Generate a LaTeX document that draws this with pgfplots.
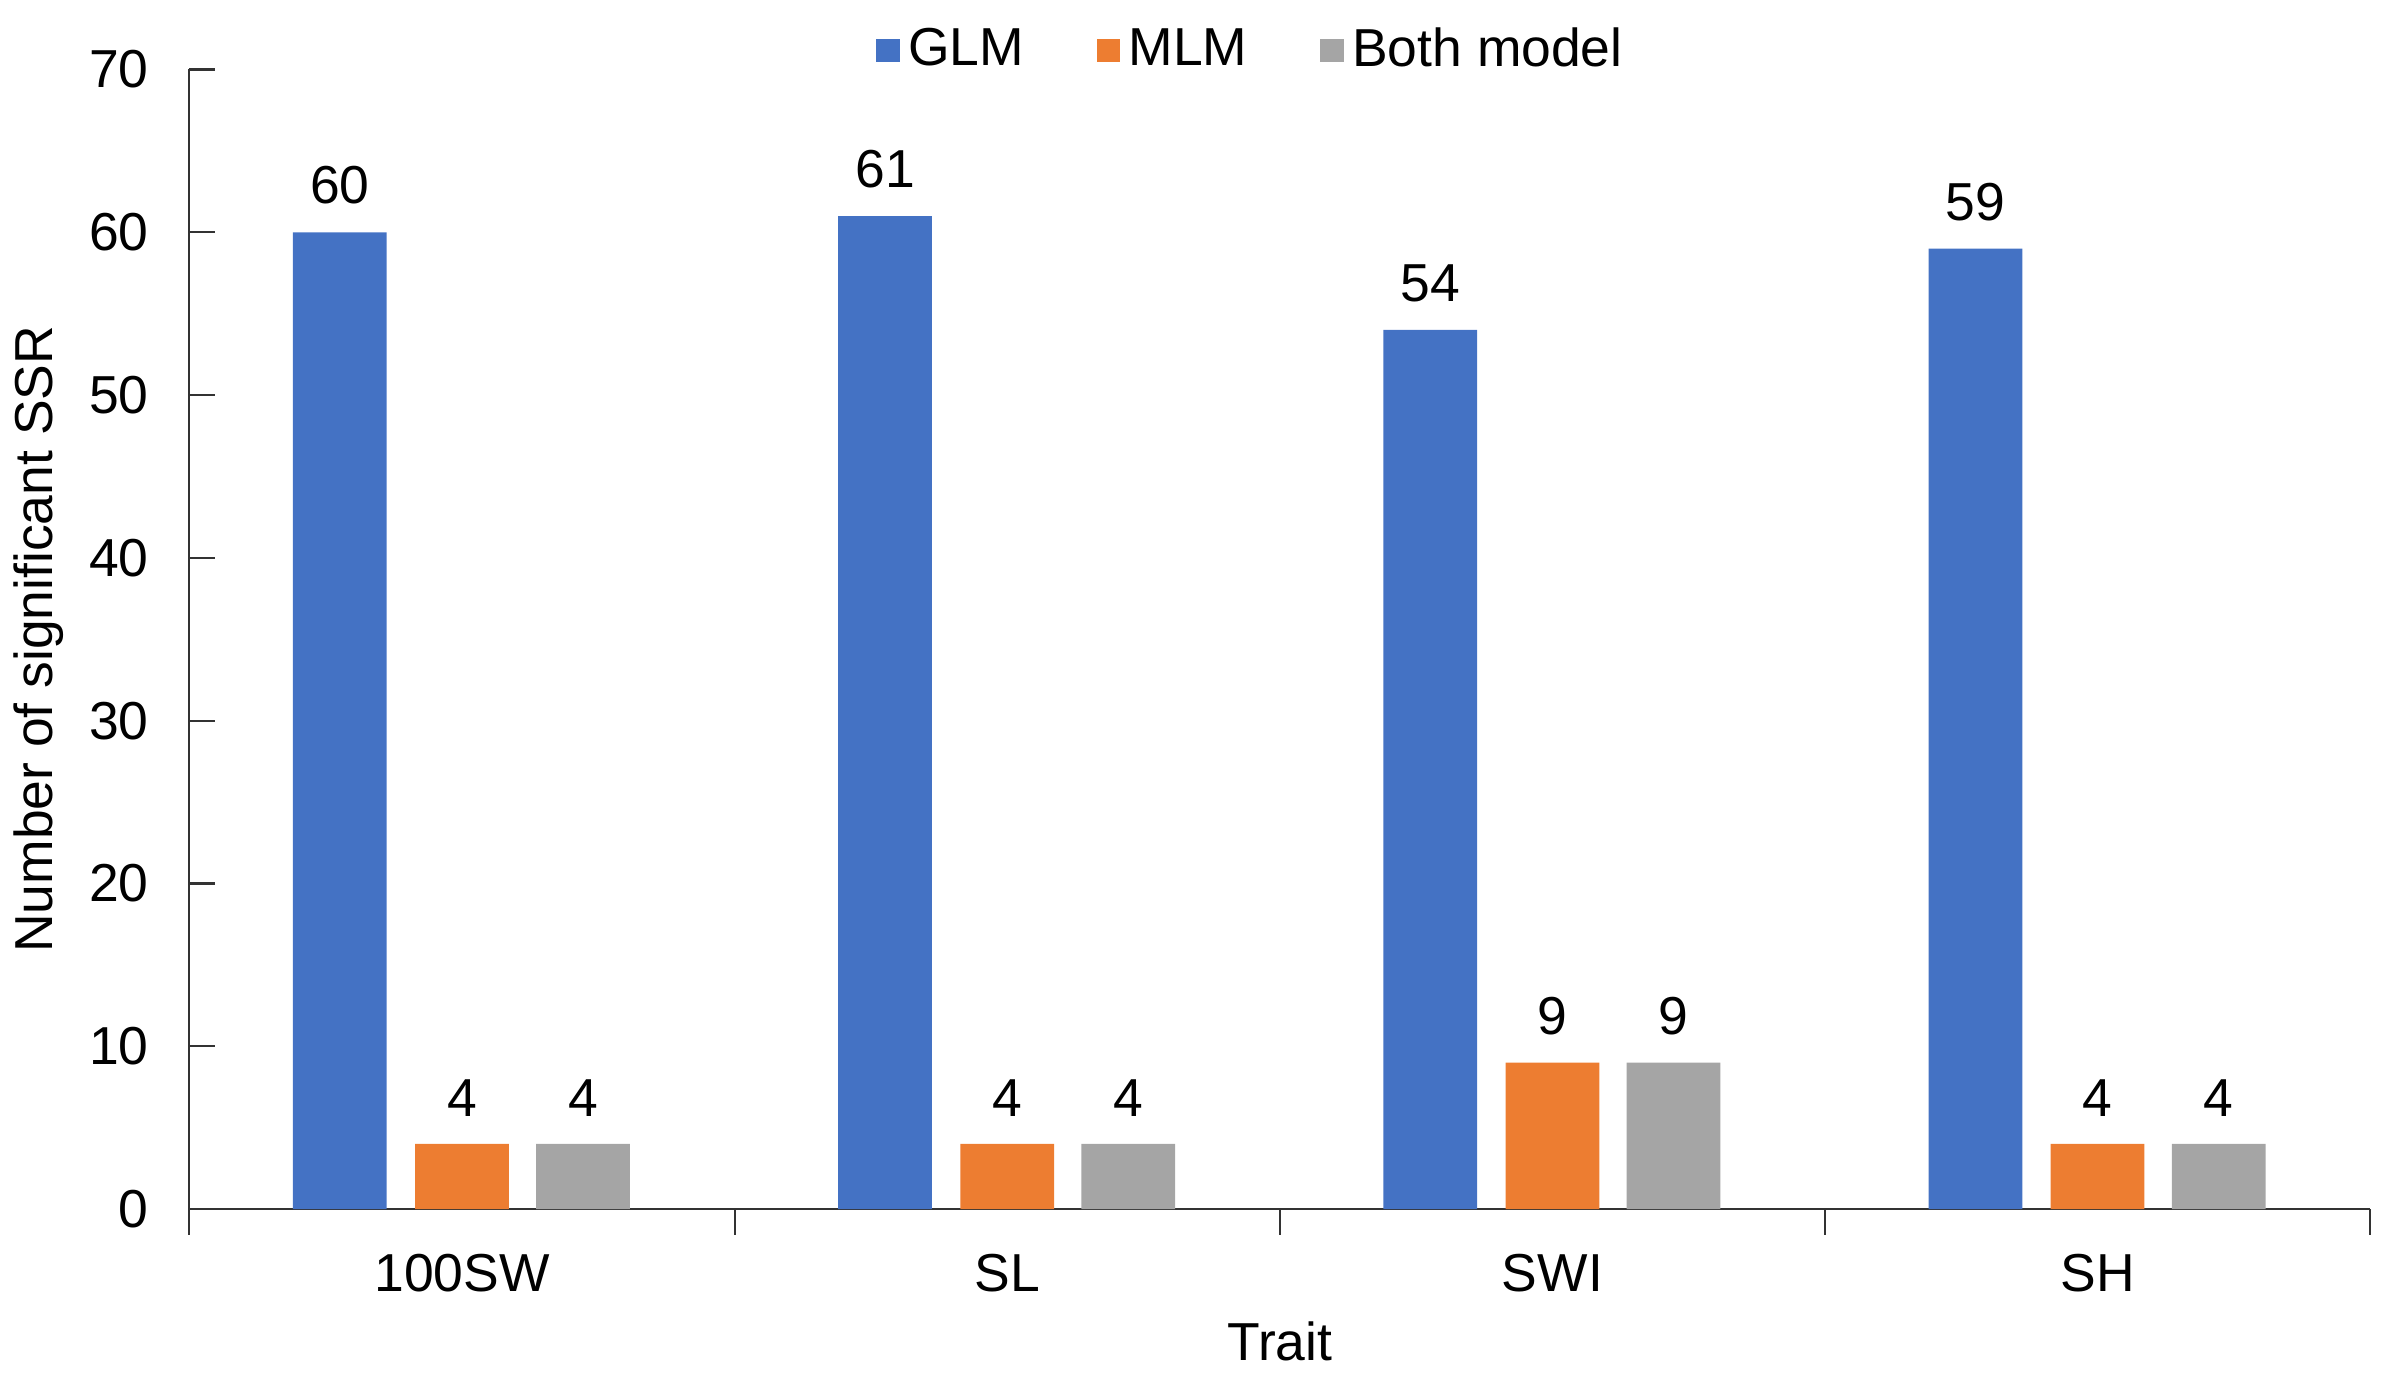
\documentclass[border=0pt]{standalone}
\usepackage{pgfplots}
\pgfplotsset{compat=1.18}
\usepackage{fontspec}
\setmainfont{Liberation Sans}
\definecolor{cblue}{HTML}{4472C4}
\definecolor{corange}{HTML}{ED7D31}
\definecolor{cgray}{HTML}{A5A5A5}
\begin{document}
\begin{tikzpicture}
\begin{axis}[
  scale only axis,
  width=510pt, height=266.5pt,
  xmin=-0.5, xmax=3.5, ymin=0, ymax=70,
  axis x line=bottom, axis y line=left,
  axis line style={-, black!80, line width=0.5pt},
  xtick={0,1,2,3},
  xticklabels={100SW,SL,SWI,SH},
  minor xtick={-0.5,0.5,1.5,2.5,3.5},
  major x tick style={draw=none},
  minor x tick style={black!80, line width=0.5pt},
  x tick label style={yshift=-1pt},
  ytick={0,10,...,70},
  y tick style={black!80, line width=0.5pt},
  major tick length=6pt,
  minor tick length=6pt,
  xtick align=outside,
  ytick align=inside,
  /pgf/number format/assume math mode=true,
  tick label style={font=\fontsize{12.5}{14}\selectfont},
  yticklabel style={xshift=-6pt},
  xlabel={Trait},
  ylabel={Number of significant SSR},
  label style={font=\fontsize{12.5}{14}\selectfont},
  ylabel style={yshift=-1pt},
  xlabel style={yshift=0pt},
  ybar, bar width=0.172,
  nodes near coords,
  every node near coord/.append style={font=\fontsize{12.5}{14}\selectfont, yshift=3pt},
  legend style={draw=none, at={(0.488,1.0)}, anchor=south, yshift=-7.5pt, inner ysep=4.5pt, legend columns=-1,
    font=\fontsize{12.5}{14}\selectfont, /tikz/every even column/.append style={column sep=15pt}},
  legend image code/.code={\fill[#1] (0pt,-2.75pt) rectangle (5.5pt,2.75pt);},
]
\addplot[fill=cblue, draw=none, bar shift=-0.224] coordinates {(0,60) (1,61) (2,54) (3,59)};
\addplot[fill=corange, draw=none, bar shift=0] coordinates {(0,4) (1,4) (2,9) (3,4)};
\addplot[fill=cgray, draw=none, bar shift=0.222] coordinates {(0,4) (1,4) (2,9) (3,4)};
\legend{GLM,MLM,Both model}
\end{axis}
\path (current axis.east) ++(3pt,0);
\end{tikzpicture}
\end{document}
